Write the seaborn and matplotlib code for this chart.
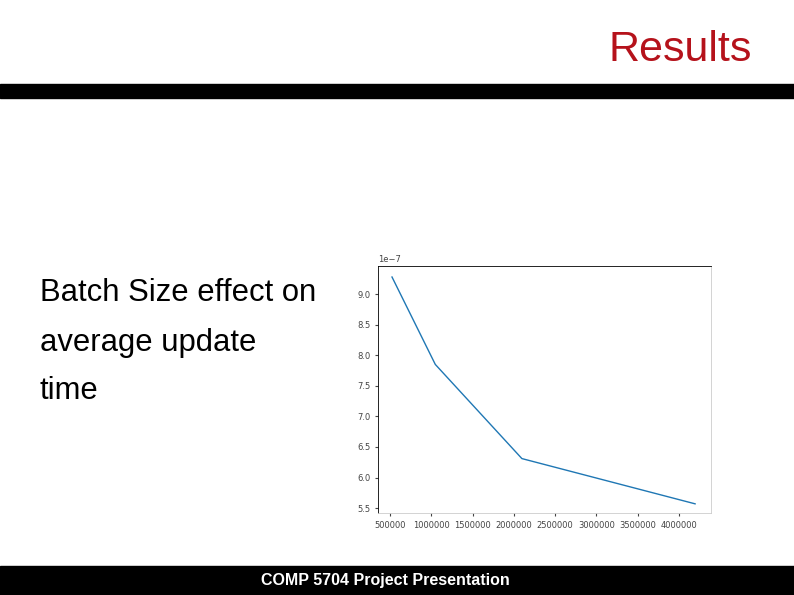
import matplotlib
matplotlib.use("Agg")
import matplotlib.pyplot as plt
import seaborn as sns

batch_sizes = [524288, 1048576, 2097152, 4194304]
update_time = [9.28e-7, 7.85e-7, 6.31e-7, 5.57e-7]
x_ticks = [500000, 1000000, 1500000, 2000000, 2500000, 3000000, 3500000, 4000000]
y_ticks = [5.5e-7, 6.0e-7, 6.5e-7, 7.0e-7, 7.5e-7, 8.0e-7, 8.5e-7, 9.0e-7]

W, H = 794, 595
fig = plt.figure(figsize=(W / 100, H / 100), dpi=100)
fig.patch.set_facecolor("white")

# slide decorations
fig.text(752 / W, 1 - 50 / H, "Results", color="#b5121b", fontsize=31,
         ha="right", va="center", family="Liberation Sans")
fig.patches.append(plt.Rectangle((0, 1 - 98 / H), 1, 14 / H, transform=fig.transFigure,
                                 color="black", zorder=0))
fig.patches.append(plt.Rectangle((0, 0), 1, 29 / H, transform=fig.transFigure,
                                 color="black", zorder=0))
fig.text(385 / W, 1 - 580 / H, "COMP 5704 Project Presentation", color="white",
         fontsize=11.5, fontweight="bold", ha="center", va="center", family="Liberation Sans")
for txt, y in [("Batch Size effect on", 293), ("average update", 343), ("time", 391)]:
    fig.text(40 / W, 1 - y / H, txt, fontsize=22.3, ha="left", va="center",
             family="Liberation Sans")

# the chart
ax = fig.add_axes([378 / W, 1 - 513 / H, (711 - 378) / W, (513 - 266) / H])
sns.lineplot(x=batch_sizes, y=update_time, ax=ax, color="#1f77b4", linewidth=1)
ax.set_xticks(x_ticks)
ax.set_yticks(y_ticks)
ax.set_xlim(354700, 4387000)
ax.set_ylim(5.42e-7, 9.46e-7)
ax.ticklabel_format(axis="x", style="plain")
ax.tick_params(labelsize=6, length=2, colors="#444444")
ax.yaxis.get_offset_text().set_fontsize(6)
for s in ax.spines.values():
    s.set_linewidth(0.6)
    s.set_color("#cccccc")
ax.spines["top"].set_color("black")
ax.spines["left"].set_color("black")

fig.savefig("out.png", dpi=100)
